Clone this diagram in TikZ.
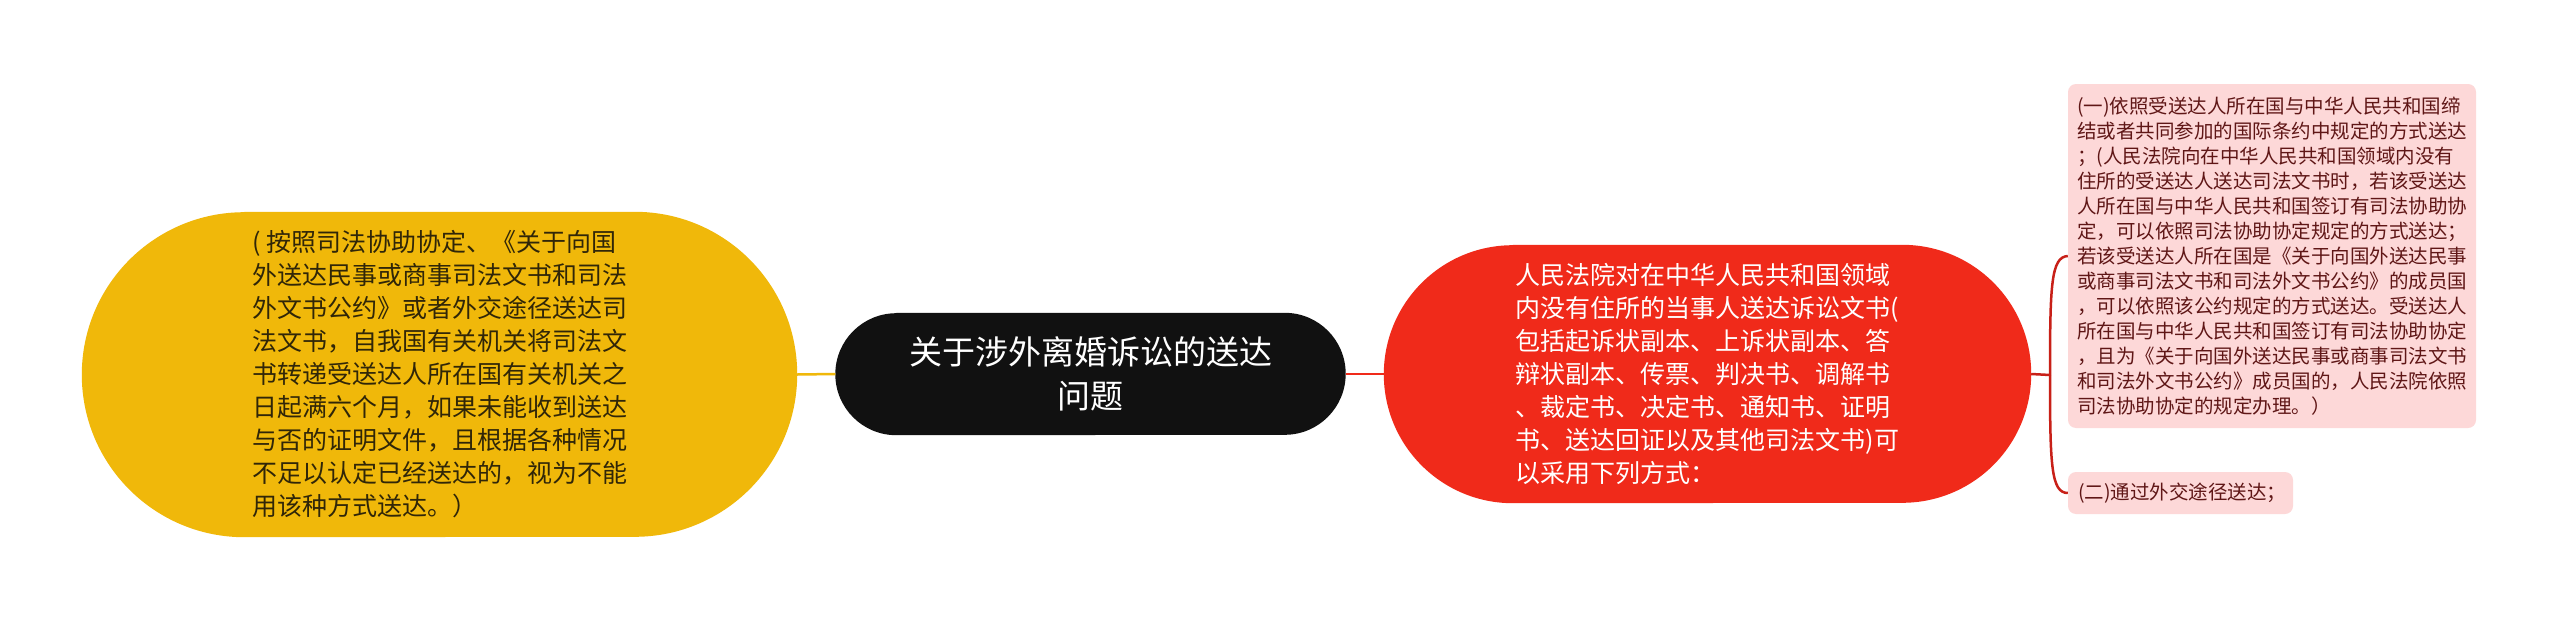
\documentclass[tikz,border=0pt]{standalone}
\usepackage{fontspec}
\setmainfont{Noto Sans CJK SC}
\usetikzlibrary{calc}
\pgfdeclarelayer{bg}
\pgfsetlayers{bg,main}
\definecolor{cyel}{RGB}{240,184,10}
\definecolor{cred}{RGB}{240,42,26}
\definecolor{cblk}{RGB}{17,17,17}
\definecolor{cpink}{RGB}{253,216,216}
\definecolor{cptext}{RGB}{95,22,22}
\definecolor{cline}{RGB}{200,32,24}
\definecolor{cytext}{RGB}{48,38,8}
\newcommand{\mypill}[4]{%
  \begin{pgfonlayer}{bg}
  \fill[#4] ($(#1.north west)+(#2pt,0)$) -- ($(#1.north east)+(-#2pt,0)$)
    arc[start angle=90,end angle=-90,x radius=#2pt,y radius=#3pt]
    -- ($(#1.south west)+(#2pt,0)$)
    arc[start angle=270,end angle=90,x radius=#2pt,y radius=#3pt] -- cycle;
  \end{pgfonlayer}}
\tikzset{
  pillnode/.style={rectangle,inner sep=0pt,align=left},
  bodytext/.style={font=\fontsize{25pt}{33pt}\selectfont},
  leaftext/.style={font=\fontsize{19.5pt}{25pt}\selectfont},
  leafbox/.style={rectangle,rounded corners=8pt,fill=cpink,text=cptext,inner sep=0pt,align=left,leaftext},
  conn/.style={line width=2.5pt}
}
\begin{document}
\begin{tikzpicture}[x=1pt,y=-1pt]
\useasboundingbox (0,0) rectangle (2560,621);
\begin{pgfonlayer}{bg}
\fill[white] (0,0) rectangle (2560,621);
\end{pgfonlayer}

\node[pillnode,bodytext,text=cytext,minimum width=715pt,minimum height=325pt] (Y) at (439.5,374.5)
{( 按照司法协助协定、《关于向国\\外送达民事或商事司法文书和司法\\外文书公约》或者外交途径送达司\\法文书，自我国有关机关将司法文\\书转递受送达人所在国有关机关之\\日起满六个月，如果未能收到送达\\与否的证明文件，且根据各种情况\\不足以认定已经送达的，视为不能\\用该种方式送达。）\hspace*{10pt}};
\mypill{Y}{162.5}{162.5}{cyel}

\node[pillnode,align=center,text=white,font=\fontsize{33pt}{44pt}\selectfont,minimum width=510pt,minimum height=122pt] (C) at (1090.5,374)
{关于涉外离婚诉讼的送达\\问题};
\mypill{C}{61}{61}{cblk}

\node[pillnode,bodytext,text=white,minimum width=647pt,minimum height=258pt] (R) at (1707.5,374)
{人民法院对在中华人民共和国领域\\内没有住所的当事人送达诉讼文书(\\包括起诉状副本、上诉状副本、答\\辩状副本、传票、判决书、调解书\\、裁定书、决定书、通知书、证明\\书、送达回证以及其他司法文书)可\\以采用下列方式：};
\mypill{R}{129}{129}{cred}

\node[leafbox,minimum width=408pt,minimum height=344pt] (P1) at (2272,256)
{(一)依照受送达人所在国与中华人民共和国缔\\结或者共同参加的国际条约中规定的方式送达\\；(人民法院向在中华人民共和国领域内没有\\住所的受送达人送达司法文书时，若该受送达\\人所在国与中华人民共和国签订有司法协助协\\定，可以依照司法协助协定规定的方式送达；\\若该受送达人所在国是《关于向国外送达民事\\或商事司法文书和司法外文书公约》的成员国\\，可以依照该公约规定的方式送达。受送达人\\所在国与中华人民共和国签订有司法协助协定\\，且为《关于向国外送达民事或商事司法文书\\和司法外文书公约》成员国的，人民法院依照\\司法协助协定的规定办理。）};

\node[leafbox,text width=205pt,minimum width=225pt,minimum height=42pt] (P2) at (2180.5,493)
{(二)通过外交途径送达；};

\draw[conn,cyel] (Y.east) -- (C.west);
\draw[conn,cred] (C.east) -- (R.west);
\coordinate (J) at (2050,375);
\draw[conn,cline] (R.east) -- (J);
\draw[conn,cline] (J) .. controls (2050,285) and (2051,257) .. (P1.west);
\draw[conn,cline] (J) .. controls (2050,465) and (2051,493) .. (P2.west);
\end{tikzpicture}
\end{document}
